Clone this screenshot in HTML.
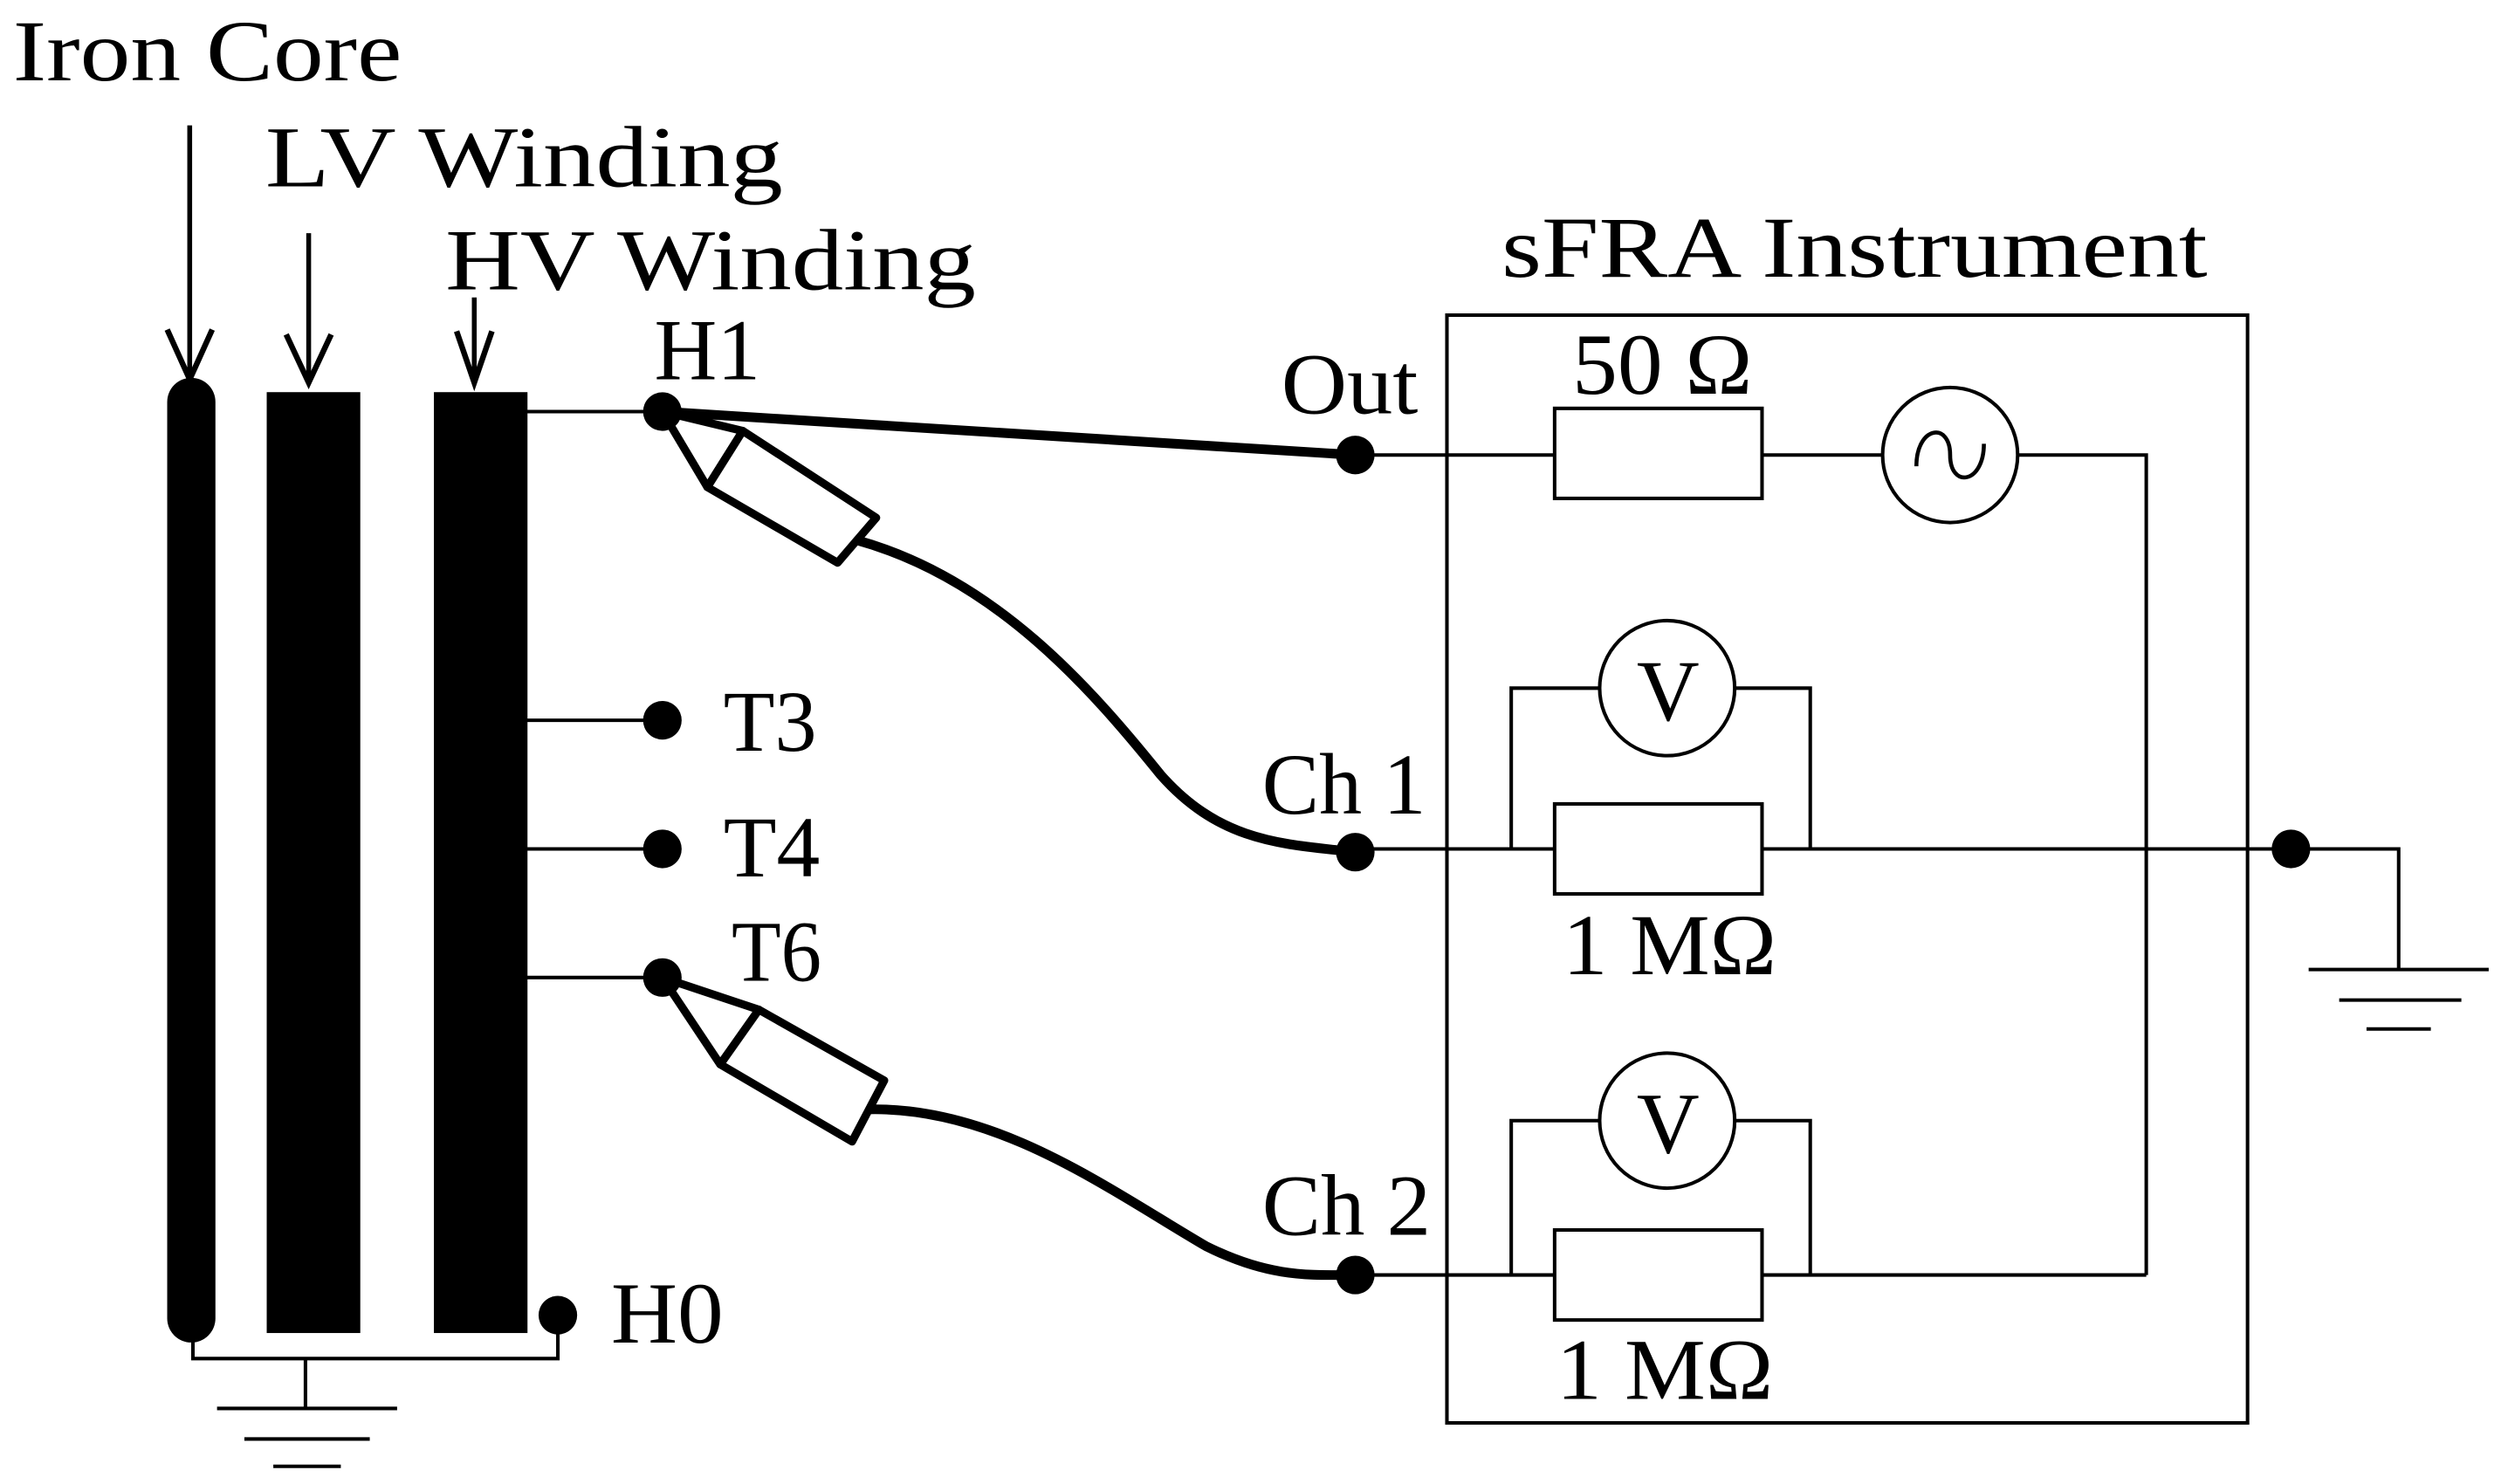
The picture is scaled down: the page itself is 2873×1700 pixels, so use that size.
<!DOCTYPE html>
<html><head><meta charset="utf-8"><style>
html,body{margin:0;padding:0;background:#fff;}
svg{display:block;}
text{font-family:"Liberation Serif",serif;font-size:54px;fill:#000;}
</style></head><body>
<svg width="2873" height="1700" viewBox="0 0 1560 923" preserveAspectRatio="none" xmlns="http://www.w3.org/2000/svg">
<g stroke="#000" fill="none" stroke-width="2.2">
<line x1="118" y1="78" x2="118" y2="236" stroke-width="3"/><polyline points="104,205 118,236 132,205" stroke-width="3.5"/>
<line x1="192" y1="145" x2="192" y2="238" stroke-width="3"/><polyline points="178,208 192,238 206,208" stroke-width="3.5"/>
<line x1="295" y1="185" x2="295" y2="238" stroke-width="3"/><polyline points="284,206 295,238 306,206" stroke-width="3.5"/>
<line x1="119" y1="250" x2="119" y2="820" stroke-width="30" stroke-linecap="round"/>
<rect x="167" y="245" width="56" height="583" fill="#000"/>
<rect x="271" y="245" width="56" height="583" fill="#000"/>
<polyline points="120,830 120,845 347,845 347,818"/>
<line x1="190" y1="845" x2="190" y2="876"/>
<line x1="135" y1="876" x2="247" y2="876"/>
<line x1="152" y1="895" x2="230" y2="895"/>
<line x1="170" y1="912" x2="212" y2="912"/>
<line x1="326" y1="256" x2="412" y2="256"/>
<line x1="326" y1="448" x2="412" y2="448"/>
<line x1="326" y1="528" x2="412" y2="528"/>
<line x1="326" y1="608" x2="412" y2="608"/>
<line x1="412" y1="256" x2="843" y2="283" stroke-width="6"/>
<polygon points="412,256 440,303 462,268" stroke-width="5" stroke-linejoin="round"/>
<polygon points="440,303 462,268 545,322 521,350" stroke-width="5" fill="#fff" stroke-linejoin="round"/>
<path d="M533,336 C620,360 680,430 722,482 C760,525 800,525 843,530" stroke-width="6"/>
<polygon points="412,608 448,662 472,628" stroke-width="5" stroke-linejoin="round"/>
<polygon points="448,662 472,628 550,672 530,710" stroke-width="5" fill="#fff" stroke-linejoin="round"/>
<path d="M540,690 C620,688 690,740 750,775 C790,795 815,793 843,793" stroke-width="6"/>
<rect x="900" y="196" width="498" height="689"/>
<line x1="843" y1="283" x2="967" y2="283"/>
<rect x="967" y="254" width="129" height="56"/>
<line x1="1096" y1="283" x2="1172" y2="283"/>
<circle cx="1213" cy="283" r="42"/>
<path d="M1192,290 C1192,265 1213,262 1213,283 C1213,304 1234,301 1234,276" stroke-width="2.5"/>
<polyline points="1255,283 1335,283 1335,793"/>
<line x1="843" y1="528" x2="967" y2="528"/>
<rect x="967" y="500" width="129" height="56"/>
<polyline points="940,528 940,428 995,428"/>
<circle cx="1037" cy="428" r="42"/>
<polyline points="1079,428 1126,428 1126,528"/>
<line x1="1096" y1="528" x2="1425" y2="528"/>
<polyline points="1425,528 1492,528 1492,603"/>
<line x1="1436" y1="603" x2="1548" y2="603"/>
<line x1="1455" y1="622" x2="1531" y2="622"/>
<line x1="1472" y1="640" x2="1512" y2="640"/>
<line x1="843" y1="793" x2="967" y2="793"/>
<rect x="967" y="765" width="129" height="56"/>
<polyline points="940,793 940,697 995,697"/>
<circle cx="1037" cy="697" r="42"/>
<polyline points="1079,697 1126,697 1126,793"/>
<line x1="1096" y1="793" x2="1335" y2="793"/>
</g>
<g fill="#000">
<circle cx="412" cy="256" r="12"/><circle cx="412" cy="448" r="12"/>
<circle cx="412" cy="528" r="12"/><circle cx="412" cy="608" r="12"/>
<circle cx="347" cy="818" r="12"/>
<circle cx="843" cy="283" r="12"/><circle cx="843" cy="530" r="12"/>
<circle cx="843" cy="793" r="12"/><circle cx="1425" cy="528" r="12"/>
</g>
<text x="8" y="50" textLength="242" lengthAdjust="spacingAndGlyphs">Iron Core</text>
<text x="165" y="116" textLength="322" lengthAdjust="spacingAndGlyphs">LV Winding</text>
<text x="277" y="180" textLength="330" lengthAdjust="spacingAndGlyphs">HV Winding</text>
<text x="407" y="236" textLength="66" lengthAdjust="spacingAndGlyphs">H1</text>
<text x="450" y="467" textLength="58" lengthAdjust="spacingAndGlyphs">T3</text>
<text x="450" y="545" textLength="60" lengthAdjust="spacingAndGlyphs">T4</text>
<text x="455" y="610" textLength="56" lengthAdjust="spacingAndGlyphs">T6</text>
<text x="380" y="835" textLength="70" lengthAdjust="spacingAndGlyphs">H0</text>
<text x="934" y="172" textLength="439" lengthAdjust="spacingAndGlyphs">sFRA Instrument</text>
<text x="797" y="257" textLength="85" lengthAdjust="spacingAndGlyphs">Out</text>
<text x="785" y="506" textLength="102" lengthAdjust="spacingAndGlyphs">Ch 1</text>
<text x="785" y="768" textLength="105" lengthAdjust="spacingAndGlyphs">Ch 2</text>
<text x="978" y="245" textLength="112" lengthAdjust="spacingAndGlyphs">50 Ω</text>
<text x="972" y="606" textLength="133" lengthAdjust="spacingAndGlyphs">1 MΩ</text>
<text x="968" y="870" textLength="135" lengthAdjust="spacingAndGlyphs">1 MΩ</text>
<text x="1018" y="448">V</text>
<text x="1018" y="717">V</text>
</svg>
</body></html>
